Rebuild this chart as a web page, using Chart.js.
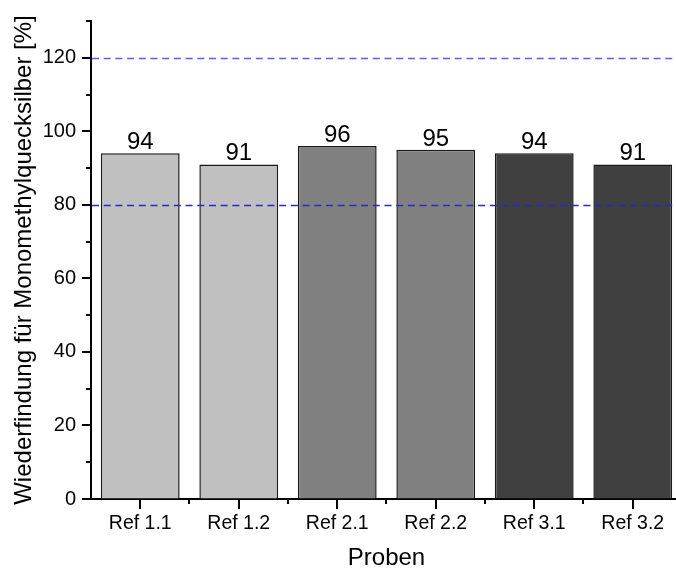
<!DOCTYPE html>
<html>
<head>
<meta charset="utf-8">
<script src="https://cdn.jsdelivr.net/npm/chart.js@4/dist/chart.umd.min.js"></script>
<style>
  html, body { margin: 0; padding: 0; background: #fff; overflow: hidden; }
  #wrap { width: 700px; height: 576px; }
</style>
</head>
<body>
<div id="wrap"><canvas id="c" width="700" height="576"></canvas></div>
<script>
// Wiederfindung (recovery) per reference sample
const categories = ['Ref 1.1', 'Ref 1.2', 'Ref 2.1', 'Ref 2.2', 'Ref 3.1', 'Ref 3.2'];
const recovery = [94, 91, 96, 95, 94, 91];
// acceptance limits
const upperLimit = 120;
const lowerLimit = 80;
const yMin = 0;
const yMax = 130;

const FONT = "Arial, 'Liberation Sans', sans-serif";

// tick marks (major + minor) drawn outside the plot area
const axisTicks = {
  id: 'axisTicks',
  afterDraw(chart) {
    const { ctx, scales: { x, y } } = chart;
    ctx.save();
    ctx.strokeStyle = '#000';
    ctx.lineWidth = 2;
    const ax = y.right, ay = x.top;
    for (let v = yMin; v <= yMax; v += 10) {
      const py = Math.round(y.getPixelForValue(v));
      const len = v % 20 === 0 ? 9 : 5;
      ctx.beginPath(); ctx.moveTo(ax - len, py); ctx.lineTo(ax, py); ctx.stroke();
    }
    for (let i = 0; i < categories.length; i++) {
      const px = Math.round(x.getPixelForValue(i));
      ctx.beginPath(); ctx.moveTo(px, ay); ctx.lineTo(px, ay + 10); ctx.stroke();
      const half = (x.getPixelForValue(1) - x.getPixelForValue(0)) / 2;
      const bx = Math.round(px + half);
      ctx.beginPath(); ctx.moveTo(bx, ay); ctx.lineTo(bx, ay + 5); ctx.stroke();
    }
    ctx.restore();
  }
};

// dashed limit lines and value labels on top of the bars
const overlays = {
  id: 'overlays',
  afterDatasetsDraw(chart) {
    const { ctx, chartArea, scales: { y } } = chart;
    ctx.save();
    const lines = [
      { v: upperLimit, color: 'rgb(90,90,255)' },
      { v: lowerLimit, color: 'rgb(40,40,200)' }
    ];
    ctx.lineWidth = 1.3;
    ctx.setLineDash([7, 4.7]);
    lines.forEach(l => {
      const py = Math.round(y.getPixelForValue(l.v)) + 0.5;
      ctx.strokeStyle = l.color;
      ctx.beginPath(); ctx.moveTo(chartArea.left + 1, py); ctx.lineTo(chartArea.right, py); ctx.stroke();
    });
    ctx.setLineDash([]);
    const meta = chart.getDatasetMeta(0);
    ctx.fillStyle = '#000';
    ctx.font = '24px ' + FONT;
    ctx.textAlign = 'center';
    ctx.textBaseline = 'alphabetic';
    meta.data.forEach((bar, i) => {
      ctx.fillText(String(recovery[i]), bar.x, bar.y - 4);
    });
    ctx.restore();
  }
};

new Chart(document.getElementById('c'), {
  type: 'bar',
  data: {
    labels: categories,
    datasets: [{
      data: recovery,
      backgroundColor: ['#c0c0c0', '#c0c0c0', '#808080', '#808080', '#404040', '#404040'],
      borderColor: '#1a1a1a',
      borderWidth: 1.5,
      barPercentage: 0.8,
      categoryPercentage: 1.0
    }]
  },
  options: {
    responsive: false,
    animation: false,
    devicePixelRatio: 1,
    layout: { padding: { left: 0, right: 18, top: 21, bottom: 0 } },
    plugins: { legend: { display: false }, tooltip: { enabled: false } },
    scales: {
      x: {
        offset: true,
        grid: { display: true, drawOnChartArea: false, drawTicks: false },
        border: { display: true, color: '#000', width: 2 },
        ticks: { color: '#000', font: { family: FONT, size: 19.5 }, padding: 13, maxRotation: 0 },
        title: { display: true, text: 'Proben', color: '#000', font: { family: FONT, size: 24 }, padding: { top: 0, bottom: 3 } },
        afterFit(s) { s.height = 77; s.paddingLeft = 0; s.paddingRight = 0; }
      },
      y: {
        min: yMin,
        max: yMax,
        grid: { display: true, drawOnChartArea: false, drawTicks: false },
        border: { display: true, color: '#000', width: 2 },
        ticks: {
          stepSize: 20,
          color: '#000',
          font: { family: FONT, size: 20 },
          padding: 15,
          callback: v => (v % 20 === 0 ? v : null)
        },
        title: { display: true, text: 'Wiederfindung für Monomethylquecksilber [%]', color: '#000', font: { family: FONT, size: 24 }, padding: { top: 10, bottom: 0 } },
        afterFit(s) { s.width = 91; s.paddingTop = 0; s.paddingBottom = 0; }
      }
    }
  },
  plugins: [axisTicks, overlays]
});
</script>
</body>
</html>
